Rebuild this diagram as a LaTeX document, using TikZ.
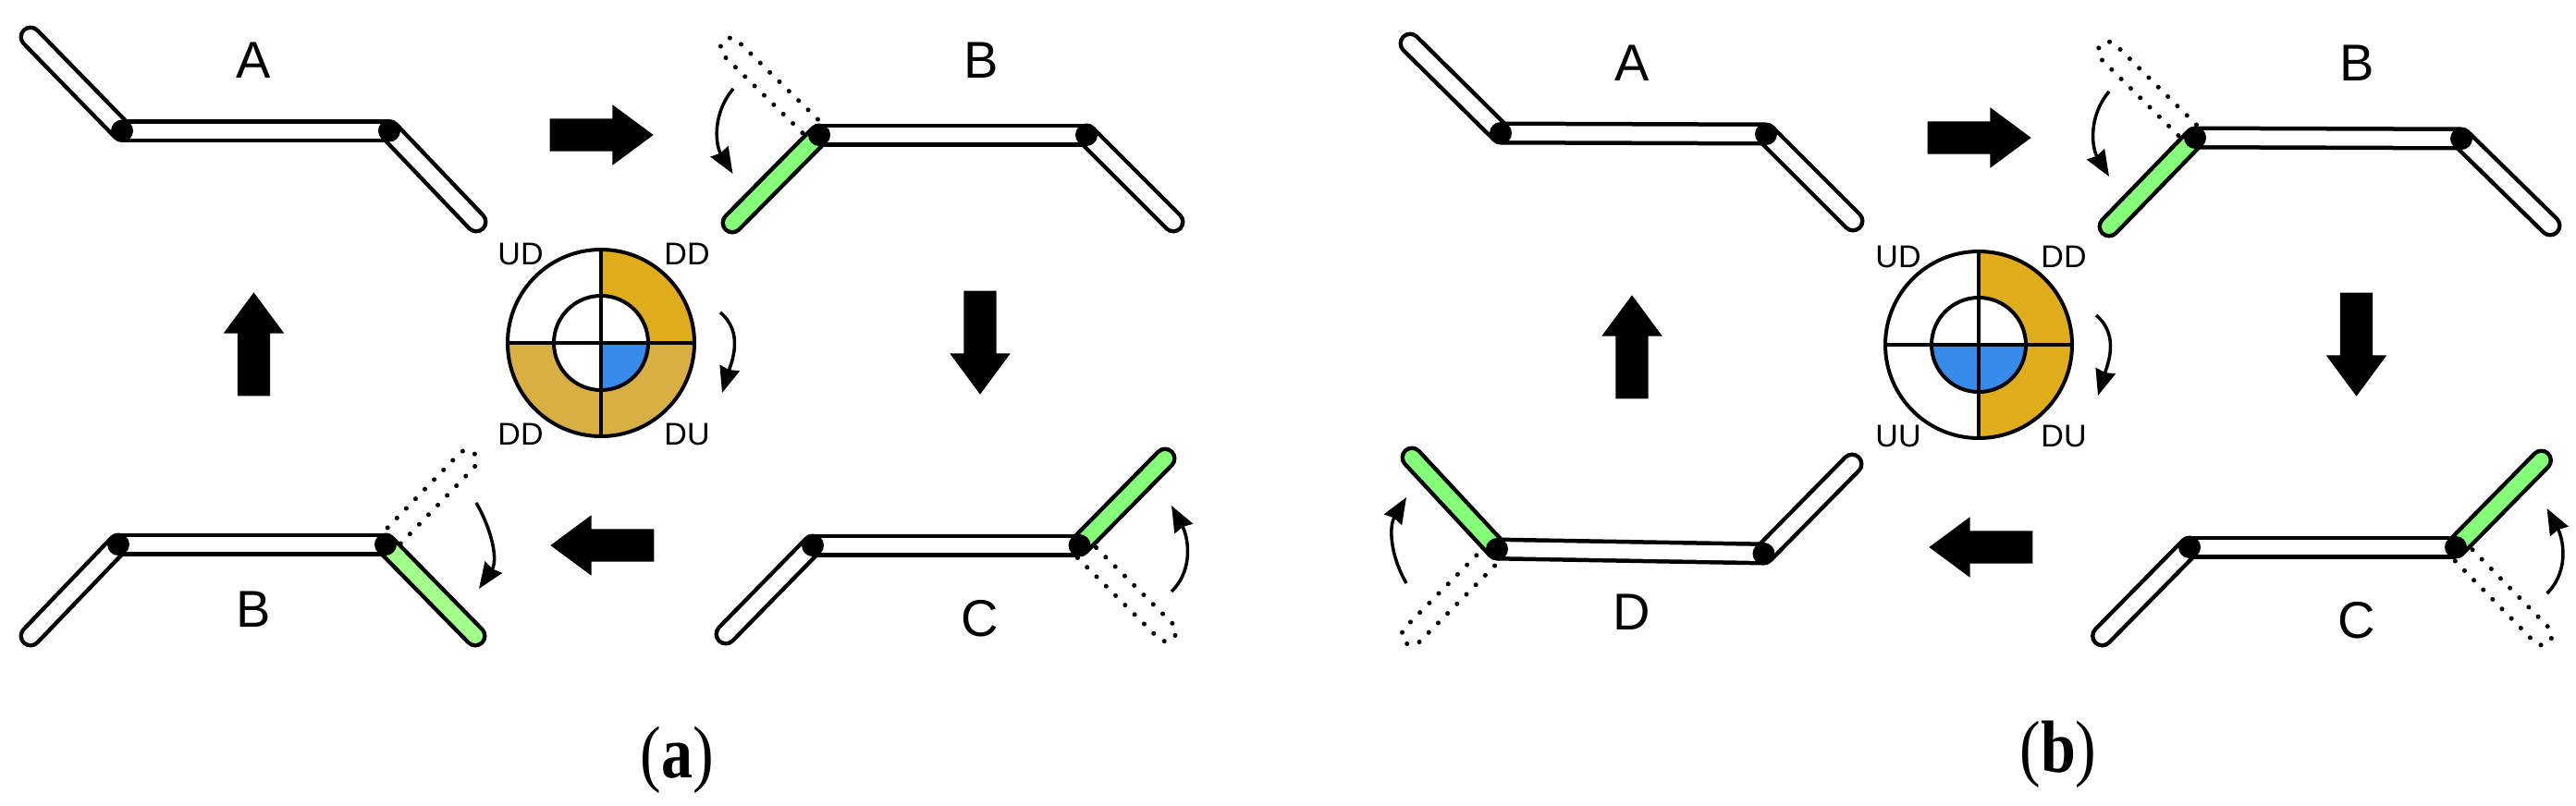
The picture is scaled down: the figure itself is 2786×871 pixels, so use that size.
\documentclass[tikz,border=0pt]{standalone}
\usepackage{fontspec}
\setmainfont{Liberation Sans}
\newfontfamily\captionserif{Liberation Serif}
\usetikzlibrary{arrows.meta,calc,shapes.arrows}

\definecolor{rodgreen}{RGB}{133,255,122}
\definecolor{rodpale}{RGB}{163,255,140}
\definecolor{dialgold}{RGB}{223,173,27}
\definecolor{dialsand}{RGB}{216,175,66}
\definecolor{dialblue}{RGB}{54,139,235}

\newcommand{\ghostrod}[2]{
  \coordinate (gx) at ($(#2)!-11pt!(#1)$);
  \draw[ghost] ($(#1)!11pt!90:(#2)$) -- ($(gx)!11pt!-90:(#2)$) -- ($(gx)!11pt!90:(#2)$) -- ($(#1)!11pt!-90:(#2)$);
}

\begin{document}
\begin{tikzpicture}[x=1pt,y=-1pt,
                    rod/.style={line width=4.5pt,double distance=16pt,line cap=round},
                    rodbar/.style={line width=4.5pt,double=white,double distance=16pt},
                    hinge/.style={circle,fill=black,inner sep=0pt,minimum size=24pt},
                    ghost/.style={line width=5pt,line cap=round,dash pattern=on .1pt off 14.4pt,rounded corners=11pt},
                    bigarrow/.style={single arrow,fill=black,inner xsep=0pt,inner ysep=17.5pt,minimum height=112pt,
                                     single arrow head extend=15pt,single arrow tip angle=73,anchor=tip},
                    turn/.style={line width=3.5pt,-{Stealth[length=28pt,width=22pt,inset=2pt]}},
                    dial/.style={circle,draw,line width=4pt,inner sep=0pt,outer sep=0pt},
                    dialline/.style={line width=4.5pt},
                    statelabel/.style={inner sep=0pt,font=\fontsize{56}{56}\selectfont},
                    quadlabel/.style={inner sep=0pt,font=\fontsize{34}{34}\selectfont},
                    sublabel/.style={inner sep=0pt,font=\captionserif\fontsize{80}{80}\selectfont}]

  \useasboundingbox (0,0) rectangle (2786,871);

  \coordinate (p1L) at (132,141.5);    \coordinate (p1R) at (421,141.5);
  \coordinate (p1l) at (33,40);        \coordinate (p1r) at (515,240);
  \coordinate (p2L) at (886,146);      \coordinate (p2R) at (1175,146);
  \coordinate (p2l) at (792,241);      \coordinate (p2r) at (1269,240);
  \coordinate (p3L) at (879,590);      \coordinate (p3R) at (1167.5,590);
  \coordinate (p3l) at (785,686);      \coordinate (p3r) at (1260,496);
  \coordinate (p4L) at (128,589);      \coordinate (p4R) at (417,589);
  \coordinate (p4l) at (33,688);       \coordinate (p4r) at (514,688);
  \coordinate (q1L) at (1623,144);     \coordinate (q1R) at (1910,145);
  \coordinate (q1l) at (1525,47);      \coordinate (q1r) at (2004,239);
  \coordinate (q2L) at (2374,149);     \coordinate (q2R) at (2662,150);
  \coordinate (q2l) at (2281,245);     \coordinate (q2r) at (2758,244);
  \coordinate (q3L) at (2368,592);     \coordinate (q3R) at (2656,592);
  \coordinate (q3l) at (2273.5,688);   \coordinate (q3r) at (2748.5,498);
  \coordinate (q4L) at (1619,594);     \coordinate (q4R) at (1907.5,599);
  \coordinate (q4l) at (1527,495);     \coordinate (q4r) at (2003,502);

  \coordinate (p2g) at (790,52);       \coordinate (p3g) at (1261,683);
  \coordinate (p4g) at (505,498);      \coordinate (q2g) at (2280,56);
  \coordinate (q3g) at (2749,687);     \coordinate (q4g) at (1527,687);

  \ghostrod{p2L}{p2g}
  \ghostrod{p3R}{p3g}
  \ghostrod{p4R}{p4g}
  \ghostrod{q2L}{q2g}
  \ghostrod{q3R}{q3g}
  \ghostrod{q4L}{q4g}

  \foreach \n/\cl/\cr in {p1/white/white,p2/rodgreen/white,p3/white/rodgreen,p4/white/rodpale,
                          q1/white/white,q2/rodgreen/white,q3/white/rodgreen,q4/rodgreen/white}{
    \draw[rod,double=\cl] (\n L) -- (\n l);
    \draw[rod,double=\cr] (\n R) -- (\n r);
    \draw[rodbar] (\n L) -- (\n R);
    \node[hinge] (\n hl) at (\n L) {};
    \node[hinge] (\n hr) at (\n R) {};
  }

  \node[statelabel] (stateA)  at (274.5,65)  {A};
  \node[statelabel] (stateB)  at (1061,65)   {B};
  \node[statelabel] (stateC)  at (1060,669)  {C};
  \node[statelabel] (stateBb) at (274.5,659) {B};
  \node[statelabel] (twoA)    at (1765,68)   {A};
  \node[statelabel] (twoB)    at (2549,68)   {B};
  \node[statelabel] (twoC)    at (2549,671)  {C};
  \node[statelabel] (twoD)    at (1765,662)  {D};

  \node[bigarrow] (moveAB) at (707,146)      {};
  \node[bigarrow,rotate=-90] (moveBC) at (1060,427) {};
  \node[bigarrow,rotate=180] (moveCD) at (595,590)  {};
  \node[bigarrow,rotate=90]  (moveDA) at (274.5,316) {};
  \node[bigarrow] (shiftAB) at (2197,149)    {};
  \node[bigarrow,rotate=-90] (shiftBC) at (2548.5,429) {};
  \node[bigarrow,rotate=180] (shiftCD) at (2086,592)   {};
  \node[bigarrow,rotate=90]  (shiftDA) at (1765,319)   {};

  \coordinate (ca) at (650,371);
  \coordinate (cb) at (2140,373);

  \fill[dialgold] (ca) -- ++(101pt,0pt) arc[start angle=0,end angle=90,radius=101pt] -- cycle;
  \fill[dialsand] (ca) -- ++(-101pt,0pt) arc[start angle=180,end angle=360,radius=101pt] -- cycle;
  \fill[white] (ca) circle[radius=51pt];
  \fill[dialblue] (ca) -- ++(51pt,0pt) arc[start angle=0,end angle=-90,radius=51pt] -- cycle;
  \node[dial,minimum size=202pt] (outerA) at (ca) {};
  \node[dial,minimum size=102pt] (innerA) at (ca) {};
  \draw[dialline] (outerA.north) -- (outerA.south);
  \draw[dialline] (outerA.west) -- (outerA.east);

  \fill[dialgold] (cb) -- ++(0pt,101pt) arc[start angle=90,end angle=-90,radius=101pt] -- cycle;
  \fill[white] (cb) circle[radius=51pt];
  \fill[dialblue] (cb) -- ++(51pt,0pt) arc[start angle=0,end angle=-180,radius=51pt] -- cycle;
  \node[dial,minimum size=202pt] (outerB) at (cb) {};
  \node[dial,minimum size=102pt] (innerB) at (cb) {};
  \draw[dialline] (outerB.north) -- (outerB.south);
  \draw[dialline] (outerB.west) -- (outerB.east);

  \node[quadlabel] (aUD) at (563,275)  {UD};
  \node[quadlabel] (aDD) at (743,275)  {DD};
  \node[quadlabel] (aDb) at (563,470)  {DD};
  \node[quadlabel] (aDU) at (743,470)  {DU};
  \node[quadlabel] (bUD) at (2053,278) {UD};
  \node[quadlabel] (bDD) at (2232,278) {DD};
  \node[quadlabel] (bUU) at (2053,472) {UU};
  \node[quadlabel] (bDU) at (2232,472) {DU};

  \coordinate (t1s) at (779,338);      \coordinate (t1e) at (781,425);
  \coordinate (t2s) at (793,96);       \coordinate (t2e) at (792.5,188);
  \coordinate (t3s) at (1267,640);     \coordinate (t3e) at (1267,547);
  \coordinate (t4s) at (515,544);      \coordinate (t4e) at (518,637);
  \coordinate (u1s) at (2267,341);     \coordinate (u1e) at (2269,428);
  \coordinate (u2s) at (2281,99);      \coordinate (u2e) at (2281,191);
  \coordinate (u3s) at (2754.6,642);   \coordinate (u3e) at (2754.6,550);
  \coordinate (u4s) at (1521,631);     \coordinate (u4e) at (1521,538);

  \draw[turn] (t1s) to[out=-40,in=73] (t1e);
  \draw[turn] (t2s) to[out=-130,in=121] (t2e);
  \draw[turn] (t3s) to[out=45,in=-62] (t3e);
  \draw[turn] (t4s) to[out=-60,in=56] (t4e);
  \draw[turn] (u1s) to[out=-40,in=73] (u1e);
  \draw[turn] (u2s) to[out=-130,in=121] (u2e);
  \draw[turn] (u3s) to[out=45,in=-62] (u3e);
  \draw[turn] (u4s) to[out=120,in=-121] (u4e);

  \node[sublabel] (suba) at (732,822)  {\scalebox{.85}[1]{({\bfseries a})}};
  \node[sublabel] (subb) at (2226,816) {\scalebox{.85}[1]{({\bfseries b})}};

\end{tikzpicture}
\end{document}
